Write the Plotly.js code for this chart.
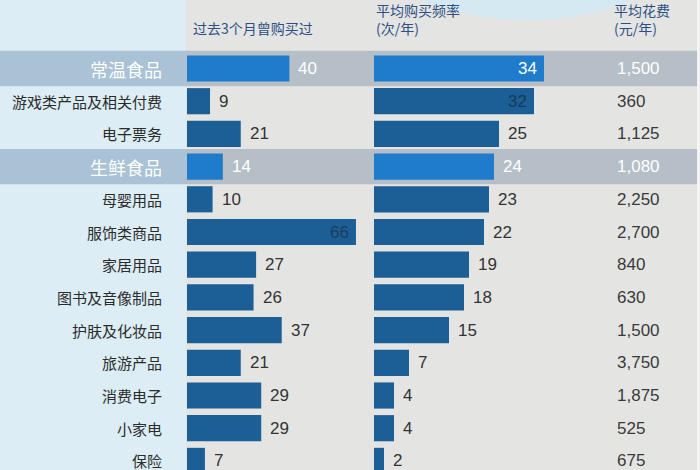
<!DOCTYPE html>
<html>
<head>
<meta charset="utf-8">
<script src="https://cdn.plot.ly/plotly-3.0.1.min.js"></script>
<style>html,body{margin:0;padding:0;background:#e4e5e3;}#chart{width:700px;height:470px;}</style>
</head>
<body>
<div id="chart"></div>
<script>
// ---- data ----
const categories = ["常温食品","游戏类产品及相关付费","电子票务","生鲜食品","母婴用品","服饰类商品","家居用品","图书及音像制品","护肤及化妆品","旅游产品","消费电子","小家电","保险"];
const purchasedPct = [40, 9, 21, 14, 10, 66, 27, 26, 37, 21, 29, 29, 7];
const frequency = [34, 32, 25, 24, 23, 22, 19, 18, 15, 7, 4, 4, 2];
const spendLabels = ["1,500","360","1,125","1,080","2,250","2,700","840","630","1,500","3,750","1,875","525","675"];
const highlighted = ["常温食品","生鲜食品"];
const header1 = "过去3个月曾购买过";
const header2 = "平均购买频率<br>(次/年)";
const header3 = "平均花费<br>(元/年)";
const insideLabels1 = [66];   // values whose label sits inside the bar (chart 1)
const insideLabels2 = [34, 32]; // chart 2

// ---- styling ----
const W = 700, H = 470;
const px = v => v / W;
const py = v => 1 - v / H;
const cBar = "#1b5f96", cBarHi = "#1f7bcb";
const isHi = c => highlighted.includes(c);
const CJK = "Noto Sans CJK SC";
const NUM = "Liberation Sans, Arial, sans-serif";

const traces = [
  {type:"bar", orientation:"h", x:purchasedPct, y:categories, xaxis:"x", yaxis:"y",
   width:0.8, marker:{color:categories.map(c=>isHi(c)?cBarHi:cBar)}, hoverinfo:"none"},
  {type:"bar", orientation:"h", x:frequency, y:categories, xaxis:"x2", yaxis:"y",
   width:0.8, marker:{color:categories.map(c=>isHi(c)?cBarHi:cBar)}, hoverinfo:"none"}
];

const shapes = [
  {type:"rect", xref:"paper", yref:"paper", x0:0, x1:px(186), y0:0, y1:1, fillcolor:"#dcedf5", line:{width:0}, layer:"below"},
  {type:"rect", xref:"paper", yref:"paper", x0:px(697), x1:1, y0:0, y1:1, fillcolor:"#f3f4f3", line:{width:0}, layer:"below"},
  {type:"circle", xref:"paper", yref:"paper", x0:px(527-296), x1:px(527+296), y0:py(20), y1:py(-572), fillcolor:"#d5e9f3", line:{width:0}, layer:"below"}
];
categories.forEach((c,i)=>{
  if(isHi(c)){
    shapes.push({type:"rect", xref:"paper", yref:"y", x0:0, x1:px(186), y0:i-0.54, y1:i+0.54, fillcolor:"#a9c2d5", line:{width:0}, layer:"below"});
    shapes.push({type:"rect", xref:"paper", yref:"y", x0:px(186), x1:px(697), y0:i-0.54, y1:i+0.54, fillcolor:"#b6bfc7", line:{width:0}, layer:"below"});
  }
});

const annotations = [];
// headers
annotations.push({xref:"paper", yref:"paper", x:px(191), y:py(28), xanchor:"left", yanchor:"middle", text:header1, showarrow:false, font:{family:CJK, size:14, color:"#2e4f84"}});
annotations.push({xref:"paper", yref:"paper", x:px(374), y:py(19), xanchor:"left", yanchor:"middle", align:"left", text:header2, showarrow:false, font:{family:CJK, size:14, color:"#2e4f84"}});
annotations.push({xref:"paper", yref:"paper", x:px(612), y:py(19), xanchor:"left", yanchor:"middle", align:"left", text:header3, showarrow:false, font:{family:CJK, size:14, color:"#2e4f84"}});

categories.forEach((c,i)=>{
  const hi = isHi(c);
  // category label
  annotations.push({xref:"paper", yref:"y", x:px(164), y:c, xanchor:"right", yanchor:"middle", showarrow:false, text:c,
    font:{family:CJK, size:hi?18:15, color:hi?"#ffffff":"#2b2b2b"}});
  // chart 1 value
  const v1 = purchasedPct[i];
  const in1 = insideLabels1.includes(v1);
  annotations.push({xref:"x", yref:"y", x:v1, y:c, xanchor:in1?"right":"left", xshift:in1?-5:7, yanchor:"middle", showarrow:false, text:String(v1),
    font:{family:NUM, size:17, color:hi?"#ffffff":(in1?"#1d3d5c":"#333333")}});
  // chart 2 value
  const v2 = frequency[i];
  const in2 = insideLabels2.includes(v2);
  annotations.push({xref:"x2", yref:"y", x:v2, y:c, xanchor:in2?"right":"left", xshift:in2?-5:7, yanchor:"middle", showarrow:false, text:String(v2),
    font:{family:NUM, size:17, color:hi?"#ffffff":(in2?"#173a5a":"#333333")}});
  // spend
  annotations.push({xref:"paper", yref:"y", x:px(615), y:c, xanchor:"left", yanchor:"middle", showarrow:false, text:spendLabels[i],
    font:{family:NUM, size:17, color:hi?"#ffffff":"#3a3a3a"}});
});

const axisOff = {showgrid:false, zeroline:false, showticklabels:false, showline:false, ticks:"", fixedrange:true};
const layout = {
  width:W, height:H, margin:{l:0,r:0,t:0,b:0},
  paper_bgcolor:"#e4e5e3", plot_bgcolor:"rgba(0,0,0,0)",
  showlegend:false, barmode:"overlay",
  xaxis:Object.assign({domain:[px(187), px(370)], range:[0, 183/2.56]}, axisOff),
  xaxis2:Object.assign({domain:[px(374), px(600)], range:[0, 226/5.0]}, axisOff),
  yaxis:Object.assign({type:"category", categoryarray:categories, categoryorder:"array", range:[(470-68.5)/32.7, -68.5/32.7]}, axisOff),
  shapes:shapes, annotations:annotations
};
Plotly.newPlot("chart", traces, layout, {displayModeBar:false, staticPlot:true});
</script>
</body>
</html>
